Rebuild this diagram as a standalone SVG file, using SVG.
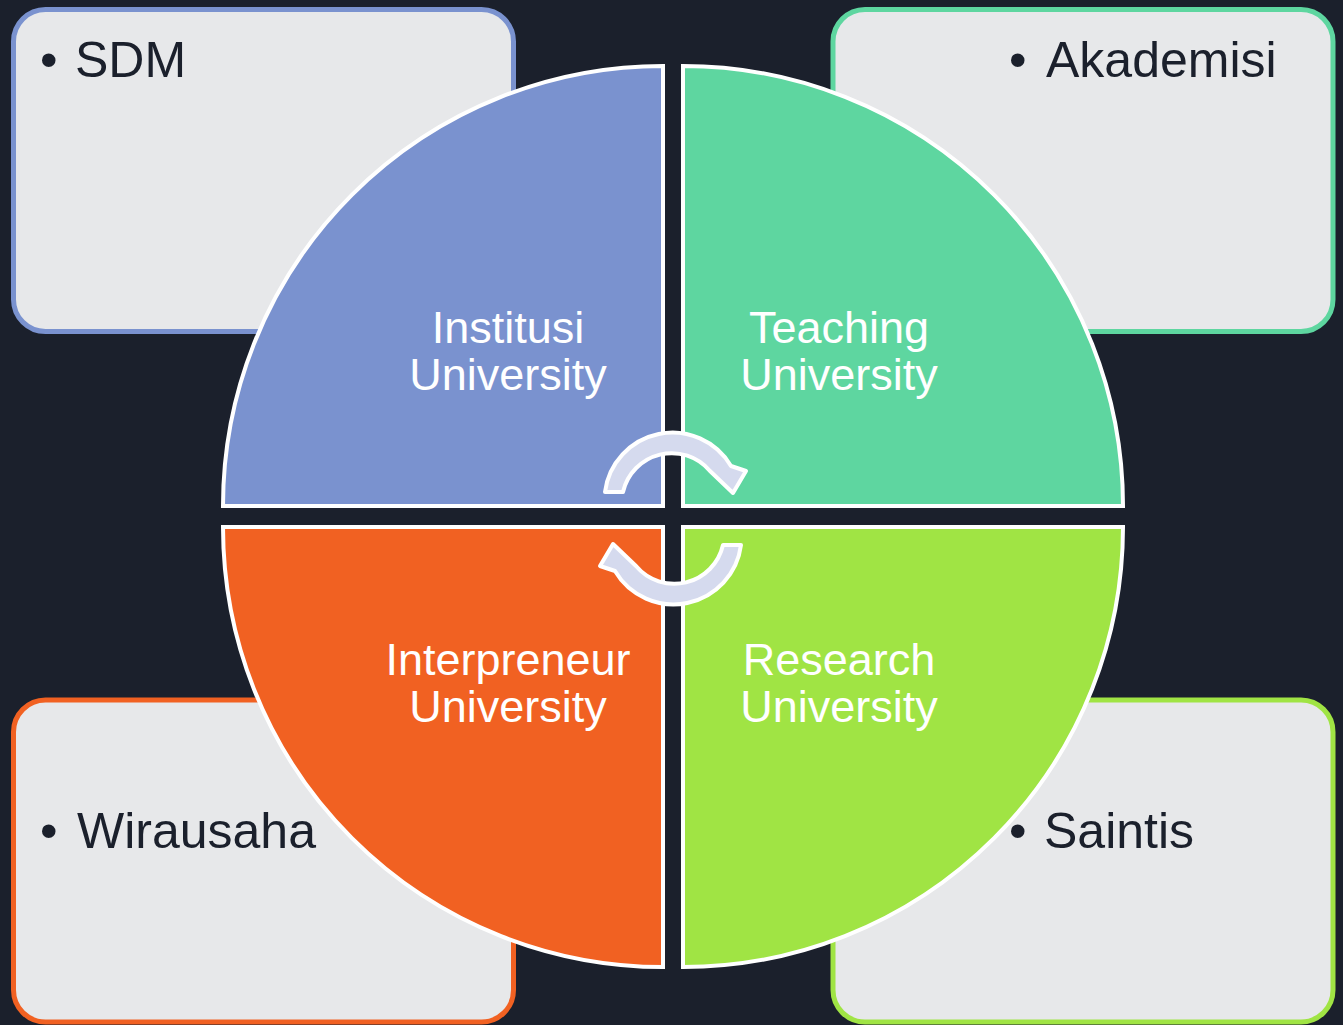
<svg xmlns="http://www.w3.org/2000/svg" width="1343" height="1025" viewBox="0 0 1343 1025">
<style>
.box{fill:#e7e8ea;stroke-width:5}
.q{stroke:#ffffff;stroke-width:4}
.bt{font-family:"Liberation Sans",Arial,sans-serif;font-size:50px;fill:#1b202c}
.qt{font-family:"Liberation Sans",Arial,sans-serif;font-size:45px;fill:#ffffff;text-anchor:middle}
.arr{fill:#d5daee;stroke:#ffffff;stroke-width:4;stroke-linejoin:round}
</style>
<rect width="1343" height="1025" fill="#1b202c"/>
<g id="box-sdm"><rect class="box" x="13.5" y="9.5" width="500" height="322" rx="32" stroke="#7a92cf"/><text class="bt" x="40" y="77">•</text><text class="bt" x="75" y="77">SDM</text></g>
<g id="box-akademisi"><rect class="box" x="833" y="9.5" width="500" height="322" rx="32" stroke="#5ed6a0"/><text class="bt" x="1009" y="77">•</text><text class="bt" x="1046" y="77">Akademisi</text></g>
<g id="box-wirausaha"><rect class="box" x="13.5" y="700" width="500" height="322" rx="32" stroke="#f16122"/><text class="bt" x="40" y="848">•</text><text class="bt" x="77" y="848">Wirausaha</text></g>
<g id="box-saintis"><rect class="box" x="833" y="700" width="500" height="322" rx="32" stroke="#a0e444"/><text class="bt" x="1009" y="848">•</text><text class="bt" x="1044" y="848">Saintis</text></g>
<g id="q-institusi"><path class="q" fill="#7a92cf" d="M663 506 L223 506 A440 440 0 0 1 663 66 Z"/><text class="qt" x="508" y="343">Institusi</text><text class="qt" x="508" y="390">University</text></g>
<g id="q-teaching"><path class="q" fill="#5ed6a0" d="M683 506 L683 66 A440 440 0 0 1 1123 506 Z"/><text class="qt" x="839" y="343">Teaching</text><text class="qt" x="839" y="390">University</text></g>
<g id="q-interpreneur"><path class="q" fill="#f16122" d="M663 527 L663 967 A440 440 0 0 1 223 527 Z"/><text class="qt" x="508" y="675">Interpreneur</text><text class="qt" x="508" y="722">University</text></g>
<g id="q-research"><path class="q" fill="#a0e444" d="M683 527 L1123 527 A440 440 0 0 1 683 967 Z"/><text class="qt" x="839" y="675">Research</text><text class="qt" x="839" y="722">University</text></g>
<g id="connectors">
<path class="arr" d="M605 492 A68 68 0 0 1 731 466 L746 471 L733 493 L710 471 A50 50 0 0 0 623 492 Z"/>
<path class="arr" transform="rotate(180 673 518.5)" d="M605 492 A68 68 0 0 1 731 466 L746 471 L733 493 L710 471 A50 50 0 0 0 623 492 Z"/>
</g>
</svg>
